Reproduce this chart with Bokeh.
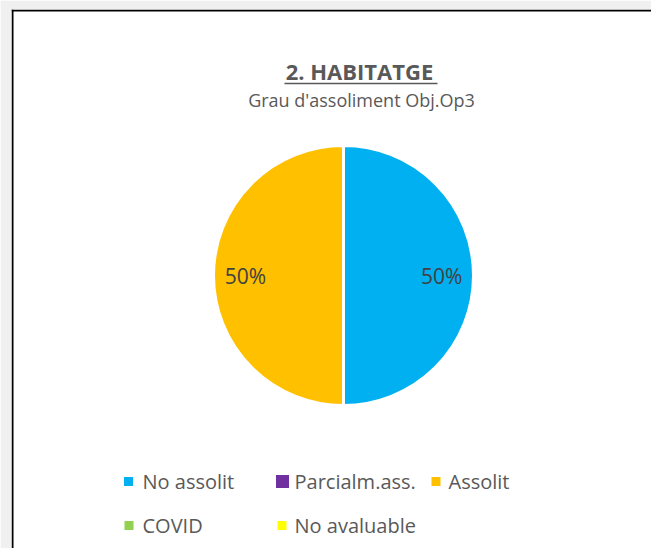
import numpy as np
from bokeh.plotting import figure
from bokeh.models import Range1d, Span, ColumnDataSource
from bokeh.core.properties import value
from bokeh.embed import file_html
from bokeh.resources import INLINE

# ---- data ----
categories = ["No assolit", "Parcialm.ass.", "Assolit", "COVID", "No avaluable"]
values = [1, 0, 1, 0, 0]
colors = ["#00B0F0", "#7030A0", "#FFC000", "#92D050", "#FFFF00"]
title = "2. HABITATGE"
subtitle = "Grau d'assoliment Obj.Op3"

# ---- layout constants (frame pixels) ----
W, H = 651, 548
BL, BT = 11, 9
FW, FH = W - BL, H - BT
CX, CY, R = 332, 273, 130
FONT = "Open Sans"
TXT = "#595959"

p = figure(width=W, height=H, output_backend="svg", toolbar_location=None,
           x_range=Range1d(0, FW), y_range=Range1d(0, FH),
           min_border_left=BL, min_border_top=BT, min_border_right=0, min_border_bottom=0)
p.axis.visible = False
p.grid.visible = False
p.outline_line_color = None
p.border_fill_color = "#f0f0f0"
p.background_fill_color = "white"

# border (left & top of chart area)
p.add_layout(Span(location=1, dimension="height", line_color="black", line_width=2))
p.add_layout(Span(location=FH - 1, dimension="width", line_color="black", line_width=2))

# ---- pie ----
vals = np.array(values, dtype=float)
frac = vals / vals.sum()
cum = np.concatenate([[0], np.cumsum(frac)])
start = np.pi / 2 - 2 * np.pi * cum[1:]
end = np.pi / 2 - 2 * np.pi * cum[:-1]
mask = frac > 0
src = ColumnDataSource(dict(start=start[mask], end=end[mask],
                            color=[c for c, m in zip(colors, mask) if m]))
p.wedge(x=CX, y=CY, radius=R, start_angle="start", end_angle="end",
        fill_color="color", line_color="white", line_width=3, source=src)

mid = (start + end) / 2
lab_r = 0.755 * R
lx = CX + lab_r * np.cos(mid[mask])
ly = CY + lab_r * np.sin(mid[mask])
labels = ["%d%%" % round(f * 100) for f in frac[mask]]
p.text(x=lx, y=ly, text=labels, text_font=value(FONT), text_font_size="21px",
       text_color="#404040", text_align="center", text_baseline="middle")

# ---- titles ----
p.text(x=[348], y=[478], text=[title], text_font=value(FONT), text_font_size="22px",
       text_font_style="bold", text_color=TXT, text_align="center",
       text_baseline="middle")
p.segment(x0=[273], y0=[465], x1=[426], y1=[465], line_color=TXT, line_width=1.5)
p.text(x=[350], y=[449], text=[subtitle], text_font=value(FONT), text_font_size="18px",
       text_color=TXT, text_align="center", text_baseline="middle")

# ---- legend ----
leg_x = [117, 271, 424.5, 117.5, 270.5]
leg_y = [67, 67, 67, 23, 23]
leg_sz = [9, 13, 9, 9, 9]
txt_x = [131, 283, 437, 131, 283]
p.scatter(x=leg_x, y=leg_y, size=leg_sz, marker="square", fill_color=colors, line_color=None)
p.text(x=txt_x, y=leg_y, text=categories, text_font=value(FONT), text_font_size="20px",
       text_color=TXT, text_align="left", text_baseline="middle")

open("out.html", "w").write(file_html(p, INLINE))
